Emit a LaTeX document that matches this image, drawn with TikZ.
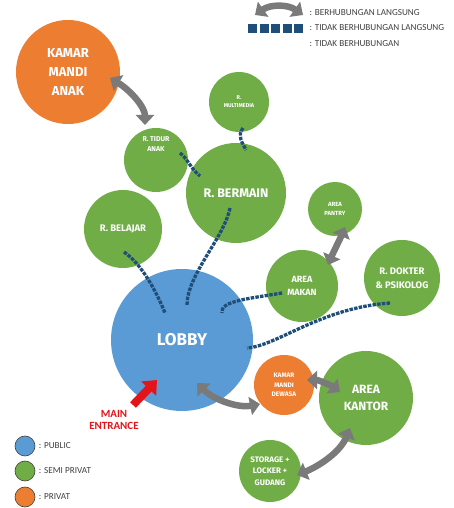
\documentclass[tikz,border=0pt]{standalone}
\usepackage{fontspec}
\setmainfont{Carlito}
\newfontfamily\roomfont{Fira Sans}
\usetikzlibrary{arrows.meta}
\usetikzlibrary{calc}
\definecolor{pubblue}{HTML}{5B9BD5}
\definecolor{semigreen}{HTML}{70AD47}
\definecolor{privorange}{HTML}{ED7D31}
\definecolor{linkgray}{HTML}{7A7A7A}
\definecolor{wavenavy}{HTML}{1F4E79}
\definecolor{entryred}{HTML}{E3151A}

\begin{document}
\begin{tikzpicture}[x=1pt, y=1pt,
  fs/.style={font=\roomfont\bfseries\fontsize{#1}{\fpeval{#1*1.45}}\selectfont},
  room/.style={circle, minimum size=#1, inner sep=0pt, text=white, align=center},
  pub/.style={room=#1, fill=pubblue},
  semi/.style={room=#1, fill=semigreen},
  priv/.style={room=#1, fill=privorange},
  link/.style={draw=linkgray, line width=6.5pt, {Triangle[width=18pt,length=10pt]}-{Triangle[width=18pt,length=10pt]}},
  wavy/.style={draw=wavenavy, line width=3.3pt, dash pattern=on 3.5pt off 1.2pt},
  key/.style={circle, draw=black!75, semithick, minimum size=20pt, inner sep=0pt},
  keytext/.style={anchor=west, text=black!75, font=\fontsize{9.2}{11}\selectfont}]
\useasboundingbox (0,0) rectangle (453,508);

% rooms
\node[priv=104pt, fs=13] (mandianak) at (68,436) {KAMAR\\MANDI\\ANAK};
\node[semi=60pt, fs=5.5] (multimedia) at (239,406) {R.\\MULTIMEDIA};
\node[semi=64pt, label={[fs=7, text=white, align=center, yshift=16pt]center:R. TIDUR\\ANAK}] (tidur) at (156,348) {};
\node[semi=100pt, fs=12.5] (bermain) at (236,315) {R. BERMAIN};
\node[semi=78pt, fs=9.5] (belajar) at (123,279) {R. BELAJAR};
\node[semi=54pt, fs=6] (pantry) at (335,299) {AREA\\PANTRY};
\node[semi=72pt, fs=9] (makan) at (302,222) {AREA\\MAKAN};
\node[semi=76pt, fs=9.5] (dokter) at (402,230) {R. DOKTER\\\& PSIKOLOG};
\node[pub=142pt, fs=17] (lobby) at (182,168) {LOBBY};
\node[priv=60pt, fs=6.5] (mandidewasa) at (284,123) {KAMAR\\MANDI\\DEWASA};
\node[semi=94pt, fs=12] (kantor) at (366,110) {AREA\\KANTOR};
\node[semi=62pt, fs=8] (storage) at (270,37) {STORAGE +\\LOCKER +\\GUDANG};

% tidak berhubungan langsung
\draw[wavy] ($(tidur)+(24,7)$) .. controls +(8,-6) and +(-10,8) .. ($(bermain)+(-36,17)$);
\draw[wavy] ($(multimedia)+(4,-26)$) .. controls +(-6,-8) and +(-4,8) .. ($(bermain)+(10,43)$);
\draw[wavy] ($(bermain)+(-6,-15)$) .. controls +(-6,-30) and +(0,30) .. ($(lobby)+(5,35)$);
\draw[wavy] ($(belajar)+(1,-23)$) .. controls +(18,-12) and +(-8,20) .. ($(lobby)+(-17,27)$);
\draw[wavy] ($(makan)+(-20,-7)$) .. controls +(-35,-6) and +(-2,12) .. ($(lobby)+(40,27)$);
\draw[wavy] ($(dokter)+(-12,-25)$) .. controls +(-70,-5) and +(30,2) .. ($(lobby)+(65,-8)$);

% berhubungan langsung
\draw[link] ($(mandianak)+(42,-6)$) .. controls +(20,-12) and +(0,18) .. ($(tidur)+(-11,35)$);
\draw[link] ($(pantry)+(10,-18)$) .. controls +(-5,-12) and +(5,12) .. ($(makan)+(26,21)$);
\draw[link] ($(lobby)+(15,-43)$) .. controls +(18,-18) and +(-20,-4) .. ($(mandidewasa)+(-24,-19)$);
\draw[link] ($(mandidewasa)+(23,5)$) .. controls +(12,0) and +(-8,6) .. ($(kantor)+(-26,6)$);
\draw[link] ($(kantor)+(-16,-30)$) .. controls +(-10,-25) and +(20,8) .. ($(storage)+(27,-4)$);

% main entrance
\node[text=entryred, align=center, font=\bfseries\fontsize{11}{12}\selectfont] (entrance) at (114,88) {MAIN\\ENTRANCE};
\coordinate (entry) at (133,103);
\draw[entryred, line width=8pt, -{Triangle[width=20pt,length=12pt]}] (entry) -- ($(lobby)+(-25,-40)$);

% legend
\coordinate (keyl) at (255,493);
\coordinate (keyr) at (303,493);
\draw[link] (keyl) to[bend left=35] (keyr);
\coordinate (wavel) at (248,479);
\coordinate (waver) at (305,479);
\draw[draw=wavenavy, line width=9pt, dash pattern=on 9pt off 2.5pt] (wavel) -- (waver);
\node[keytext] (direct) at (306,495) {: BERHUBUNGAN LANGSUNG};
\node[keytext] (indirect) at (306,480) {: TIDAK BERHUBUNGAN LANGSUNG};
\node[keytext] (none) at (306,464) {: TIDAK BERHUBUNGAN};
\node[key, fill=pubblue] (keypub) at (25,62) {};
\node[key, fill=semigreen] (keysemi) at (25,37) {};
\node[key, fill=privorange] (keypriv) at (25,11) {};
\node[keytext] at (keypub.east) {: PUBLIC};
\node[keytext] at (keysemi.east) {: SEMI PRIVAT};
\node[keytext] at (keypriv.east) {: PRIVAT};
\end{tikzpicture}
\end{document}
